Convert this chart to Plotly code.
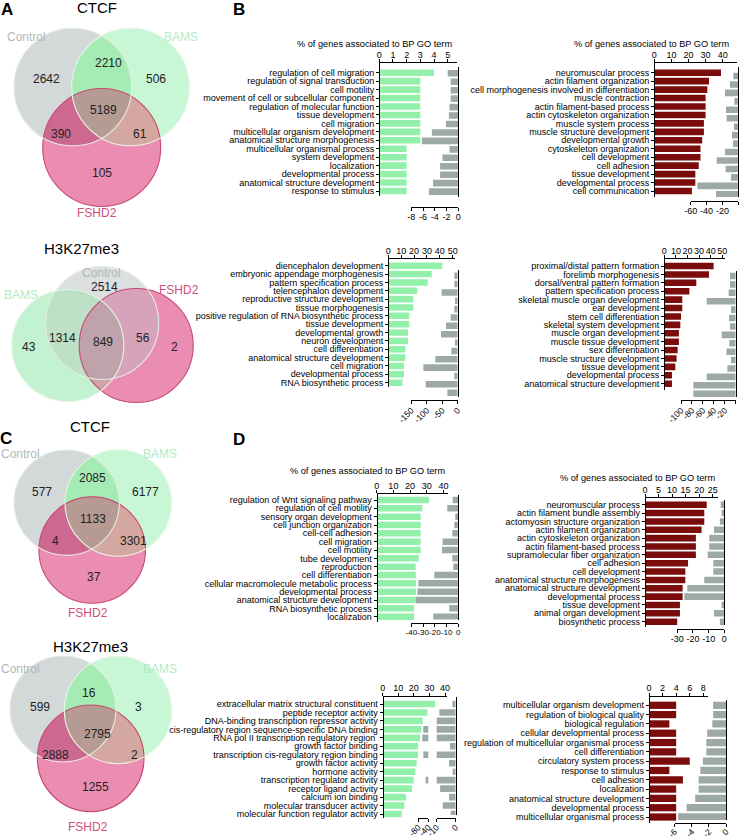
import numpy as np
import plotly.graph_objects as go

# ---------------- DATA ----------------
set_names = ["Control", "BAMS", "FSHD2"]

# Venn counts (region keys: 0=Control, 1=BAMS, 2=FSHD2)
a_ctcf_regions = [(0,), (0, 1), (1,), (0, 1, 2), (0, 2), (1, 2), (2,)]
a_ctcf_counts = [2642, 2210, 506, 5189, 390, 61, 105]
a_h3_regions = [(0,), (0, 1), (0, 1, 2), (0, 2), (1,), (2,)]
a_h3_counts = [2514, 1314, 849, 56, 43, 2]
c_ctcf_regions = [(0,), (0, 1), (1,), (0, 1, 2), (0, 2), (1, 2), (2,)]
c_ctcf_counts = [577, 2085, 6177, 1133, 4, 3301, 37]
c_h3_regions = [(0,), (0, 1), (1,), (0, 1, 2), (0, 2), (1, 2), (2,)]
c_h3_counts = [599, 16, 3, 2795, 2888, 2, 1255]

b1_terms = ["regulation of cell migration", "regulation of signal transduction", "cell motility",
            "movement of cell or subcellular component", "regulation of molecular function",
            "tissue development", "cell migration", "multicellular organism development",
            "anatomical structure morphogenesis", "multicellular organismal process",
            "system development", "localization", "developmental process",
            "anatomical structure development", "response to stimulus"]
b1_pct = [4, 3, 3, 3, 3, 3, 3, 3, 3, 2, 2, 2, 2, 2, 2]
b1_grey = [-1.8, -1.3, -1.3, -1.3, -1.5, -1.6, -2.1, -4.5, -6.2, -1.5, -2.7, -3.1, -3.1, -4.3, -5.0]

b2_terms = ["neuromuscular process", "actin filament organization",
            "cell morphogenesis involved in differentiation", "muscle contraction",
            "actin filament-based process", "actin cytoskeleton organization", "muscle system process",
            "muscle structure development", "developmental growth", "cytoskeleton organization",
            "cell development", "cell adhesion", "tissue development", "developmental process",
            "cell communication"]
b2_pct = [39, 32, 31, 30, 30, 30, 29, 29, 28, 27, 27, 26, 24, 24, 22]
b2_grey = [-6.3, -10.5, -16.8, -5, -15.5, -14.7, -5.5, -8, -6.7, -16.8, -27.3, -16, -9.2, -51.6, -28.1]

b3_terms = ["diencephalon development", "embryonic appendage morphogenesis",
            "pattern specification process", "telencephalon development",
            "reproductive structure development", "tissue morphogenesis",
            "positive regulation of RNA biosynthetic process", "tissue development",
            "developmental growth", "neuron development", "cell differentiation",
            "anatomical structure development", "cell migration", "developmental process",
            "RNA biosynthetic process"]
b3_pct = [42, 33.7, 30.6, 22.5, 19.4, 19.4, 16.3, 16.3, 15.3, 15.3, 13.2, 13.2, 12.2, 12.2, 11.1]
b3_grey = [-10.8, -10.8, -51.8, -8.6, -10.8, -22.6, -37.8, -54, -8.6, -20.5, -72.3, -111, -10.8, -103.6, -33.4]

b4_terms = ["proximal/distal pattern formation", "forelimb morphogenesis",
            "dorsal/ventral pattern formation", "pattern specification process",
            "skeletal muscle organ development", "ear development", "stem cell differentiation",
            "skeletal system development", "muscle organ development", "muscle tissue development",
            "sex differentiation", "muscle structure development", "tissue development",
            "developmental process", "anatomical structure development"]
b4_pct = [42.5, 38.5, 27.6, 21.6, 15.5, 15.5, 14.4, 13.8, 12.6, 12.6, 11.5, 10.6, 9.5, 6.6, 6.6]
b4_grey = [-10.4, -10.4, -12.8, -53, -8.5, -12.2, -10.4, -25.6, -11.6, -17, -8.5, -15.2, -53, -77.4, -77.4]

d1_terms = ["regulation of Wnt signaling pathway", "regulation of cell motility",
            "sensory organ development", "cell junction organization", "cell-cell adhesion",
            "cell migration", "cell motility", "tube development", "reproduction",
            "cell differentiation", "cellular macromolecule metabolic process",
            "developmental process", "anatomical structure development",
            "RNA biosynthetic process", "localization"]
d1_pct = [31.4, 27.4, 26.4, 26.4, 26.4, 26.4, 26.4, 25.2, 23.4, 23.4, 23.6, 23.6, 23.6, 22.4, 22.4]
d1_grey = [-4.8, -9.4, -2.6, -3.4, -5.1, -13.3, -13.9, -5.1, -4.3, -20.4, -34, -34.8, -36, -7.7, -21.3]

d2_terms = ["neuromuscular process", "actin filament bundle assembly",
            "actomyosin structure organization", "actin filament organization",
            "actin cytoskeleton organization", "actin filament-based process",
            "supramolecular fiber organization", "cell adhesion", "cell development",
            "anatomical structure morphogenesis", "anatomical structure development",
            "developmental process", "tissue development", "animal organ development",
            "biosynthetic process"]
d2_pct = [22.8, 21.9, 21.9, 20.9, 18.8, 18.8, 18.8, 15.9, 14.9, 14.9, 13.9, 13.9, 12.9, 12.9, 11.9]
d2_grey = [-2.3, -1.7, -2.8, -6.6, -9.6, -9.6, -10.6, -7, -7, -12.8, -23.6, -25.5, -1.7, -6.6, -2.8]

d3_terms = ["extracellular matrix structural constituent", "peptide receptor activity",
            "DNA-binding transcription repressor activity",
            "cis-regulatory region sequence-specific DNA binding",
            "RNA pol II transcription regulatory region ", "growth factor binding",
            "transcription cis-regulatory region binding", "growth factor activity",
            "hormone activity", "transcription regulator activity", "receptor ligand activity",
            "calcium ion binding", "molecular transducer activity",
            "molecular function regulator activity"]
d3_pct = [33.6, 28.7, 25.7, 24.8, 24, 22.7, 22.7, 21.8, 21, 19.9, 18.8, 15, 13.9, 12.2]
d3_grey = [-1.75, -8.6, -20, -60, -64, -3, -60, -3.5, -1.6, -51, -8.2, -3.5, -6.8, -2.6]

d4_terms = ["multicellular organism development", "regulation of biological quality",
            "biological regulation", "cellular developmental process",
            "regulation of multicellular organismal process", "cell differentiation",
            "circulatory system process", "response to stimulus", "cell adhesion", "localization",
            "anatomical structure development", "developmental process",
            "multicellular organismal process"]
d4_pct = [4, 4, 3, 4, 4, 4, 6, 3, 5, 4, 4, 4, 4]
d4_grey = [-1.5, -1.5, -1.6, -2.2, -2.3, -2.3, -2.7, -3.0, -3.2, -3.2, -3.6, -4.6, -5.6]

axis_title = "% of genes associated to BP GO term"

# ---------------- STYLE / LAYOUT ----------------
W, H = 740, 840
FONT = "Liberation Sans, Arial, Helvetica, sans-serif"
GREEN = "#93F0AB"
MAROON = "#7B0C0C"
GREYBAR = "#9DA9A7"


def px(x):
    return x / W


def py(y):
    return 1 - y / H


fig = go.Figure()
axes = {}
shapes = []
annots = []
counter = [0]


def ax_names():
    counter[0] += 1
    k = counter[0]
    s = "" if k == 1 else str(k)
    return f"xaxis{s}", f"yaxis{s}", f"x{s}", f"y{s}"


def common(size=9):
    return dict(showgrid=False, zeroline=False, showline=True, linecolor="black", linewidth=1.3,
                ticks="outside", ticklen=3, tickwidth=1.2, tickcolor="black",
                tickfont=dict(family=FONT, size=size, color="black"), automargin=False,
                fixedrange=True)


def go_panel(terms, pct, grey, color, g):
    n = len(terms)
    s = (g["row_last"] - g["row_first"]) / (n - 1)
    xa, ya, xr, yr = ax_names()
    axes[xa] = dict(common(9), domain=[px(g["x0"]), px(g["x1"])],
                    range=[0, (g["x1"] - g["x0"]) / g["ppu"]], anchor="free",
                    position=py(g["top_y"]), side="top", tickvals=g["ticks_top"], tickangle=0,
                    ticklabelstandoff=-2)
    axes[ya] = dict(common(9), domain=[py(g["y_bot"]), py(g["top_y"])],
                    range=[(g["y_bot"] - g["row_first"]) / s, -(g["row_first"] - g["top_y"]) / s],
                    anchor="free", position=px(g["x0"]), tickvals=list(range(n)), ticktext=terms)
    fig.add_trace(go.Bar(x=pct, y=list(range(n)), orientation="h", width=0.78,
                         marker=dict(color=color, line=dict(width=0)),
                         xaxis=xr, yaxis=yr, showlegend=False, hoverinfo="skip"))
    # grey (second measure) axes
    gy_first = g["grow_first"]
    yref = None
    for (lpx, rpx, lo, hi, tv) in g["segs"]:
        xa, ya, xr, yr = ax_names()
        axes[xa] = dict(common(g.get("bsize", 9 if g["angle"] == 0 else 8.5)),
                        domain=[px(lpx), px(rpx)],
                        range=[lo, hi], anchor="free",
                        position=py(g["gax_y"]), side="bottom", tickvals=tv,
                        ticktext=[str(v) for v in tv],
                        tickangle=g["angle"], ticklabelstandoff=g.get("sto", -2))
        if yref is None:
            yref = yr
            axes[ya] = dict(common(), domain=[py(g["gbot"]), py(g["gtop"])],
                            range=[(g["gbot"] - gy_first) / s, -(gy_first - g["gtop"]) / s],
                            anchor="free", position=px(g["gx"]), ticks="",
                            showticklabels=False)
        fig.add_trace(go.Bar(x=grey, y=list(range(n)), orientation="h", width=0.78,
                             marker=dict(color=GREYBAR, line=dict(width=0)),
                             xaxis=xr, yaxis=yref, showlegend=False, hoverinfo="skip"))


panels = [
    (b1_terms, b1_pct, b1_grey, GREEN,
     dict(top_y=62.3, x0=379.3, x1=457, ppu=13.68, ticks_top=[0, 1, 2, 3, 4, 5], y_bot=196,
          row_first=72.7, row_last=191, gx=458.3, gtop=67, gbot=197, gax_y=206.7,
          segs=[(411.3, 458.3, -8, 0, [-8, -6, -4, -2, 0])], angle=0, grow_first=73.3)),
    (b2_terms, b2_pct, b2_grey, MAROON,
     dict(top_y=62.3, x0=654.3, x1=737, ppu=1.71, ticks_top=[0, 10, 20, 30, 40], y_bot=196.7,
          row_first=72.7, row_last=191, gx=738.3, gtop=67, gbot=197, gax_y=200.7,
          segs=[(690.7, 738.3, -60, 0, [-60, -40, -20, 0])], angle=0, grow_first=76)),
    (b3_terms, b3_pct, b3_grey, GREEN,
     dict(top_y=258.3, x0=388.3, x1=455, ppu=1.287, ticks_top=[0, 10, 20, 30, 40, 50], y_bot=387,
          row_first=265.7, row_last=382.7, gx=457.7, gtop=270, gbot=396.5, gax_y=400,
          segs=[(411.3, 457.7, -150, 0, [-150, -100, -50, 0])], angle=-45, grow_first=275.7)),
    (b4_terms, b4_pct, b4_grey, MAROON,
     dict(top_y=258.3, x0=664.3, x1=725, ppu=1.16, ticks_top=[0, 10, 20, 30, 40, 50], y_bot=390,
          row_first=266, row_last=383.7, gx=735.7, gtop=271, gbot=397, gax_y=400,
          segs=[(681, 735.7, -100, 0, [-100, -80, -60, -40, -20, 0])], angle=-45, grow_first=276)),
    (d1_terms, d1_pct, d1_grey, GREEN,
     dict(top_y=493.3, x0=376.7, x1=448, ppu=1.667, ticks_top=[0, 10, 20, 30, 40], y_bot=621.7,
          row_first=500, row_last=616.7, gx=458.3, gtop=495, gbot=619.5, gax_y=623, bsize=8,
          segs=[(411.3, 458.3, -40, 0, [-40, -30, -20, -10, 0])], angle=0, grow_first=500)),
    (d2_terms, d2_pct, d2_grey, MAROON,
     dict(top_y=497.3, x0=645, x1=718, ppu=2.707, ticks_top=[0, 5, 10, 15, 20, 25], y_bot=626.7,
          row_first=504.7, row_last=621.7, gx=724.3, gtop=500, gbot=625, gax_y=628.7,
          segs=[(677.3, 724.3, -30, 0, [-30, -20, -10, 0])], angle=0, grow_first=504.7)),
    (d3_terms, d3_pct, d3_grey, GREEN,
     dict(top_y=696, x0=382.7, x1=446.7, ppu=1.558, ticks_top=[0, 10, 20, 30, 40], y_bot=818,
          row_first=704, row_last=814, gx=455.7, gtop=696.7, gbot=815, gax_y=818,
          segs=[(418.3, 428.3, -80, -40, [-80, -40]), (436.7, 455.7, -10, 0, [-10, 0])],
          angle=-45, grow_first=704, sto=-3)),
    (d4_terms, d4_pct, d4_grey, MAROON,
     dict(top_y=696, x0=649, x1=708, ppu=6.79, ticks_top=[0, 2, 4, 6, 8], y_bot=823,
          row_first=705.3, row_last=817, gx=726, gtop=700, gbot=820, gax_y=823.3,
          segs=[(674.7, 726, -6, 0, [-6, -4, -2, 0])], angle=-45, grow_first=705.3, sto=-4)),
]
for p in panels:
    go_panel(*p)

# GO axis titles
for (x, y) in [(374.7, 43.5), (651, 43.5), (367.3, 471), (637.8, 477.5)]:
    annots.append(dict(x=px(x), y=py(y), xref="paper", yref="paper", text=axis_title,
                       showarrow=False, xanchor="center", yanchor="middle",
                       font=dict(family=FONT, size=9.2, color="black")))

# ---------------- VENN ----------------
PAL_STD = {(0,): "#d3d8d8", (1,): "#c8f7d5", (2,): "#eb8cb2", (0, 1): "#a5ecb4",
           (0, 2): "#cd6991", (1, 2): "#d4a8a0", (0, 1, 2): "#b69b94"}
PAL_H3A = {(0,): "#dcdfdf", (1,): "#c3f2d1", (2,): "#eb8cb2", (0, 1): "#bde0c6",
           (0, 2): "#d6a3bb", (1, 2): "#d1a2a8", (0, 1, 2): "#c0a3aa"}
LABEL_COLORS = ["#b2b8b8", "#b3ebc4", "#cf4f7a"]
OUTLINES = ["#e4ece2", "#e6f5e6", "#c64b72"]


def circle_pts(c, n=720):
    t = np.linspace(0, 2 * np.pi, n, endpoint=False)
    return np.c_[c[0] + c[2] * np.cos(t), c[1] + c[2] * np.sin(t)]


def region_path(circs):
    pts = []
    for i, c in enumerate(circs):
        p = circle_pts(c)
        mask = np.ones(len(p), bool)
        for j, d in enumerate(circs):
            if j != i:
                mask &= (p[:, 0] - d[0]) ** 2 + (p[:, 1] - d[1]) ** 2 <= d[2] ** 2 + 1e-6
        pts.append(p[mask])
    pts = np.vstack(pts)
    cen = pts.mean(axis=0)
    ang = np.arctan2(pts[:, 1] - cen[1], pts[:, 0] - cen[0])
    pts = pts[np.argsort(ang)]
    return "M " + " L ".join(f"{px(x):.5f},{py(y):.5f}" for x, y in pts) + " Z"


def venn(title, tpos, circles, pal, regions, counts, cpos, lpos):
    for i, c in enumerate(circles):
        shapes.append(dict(type="circle", xref="paper", yref="paper",
                           x0=px(c[0] - c[2]), x1=px(c[0] + c[2]),
                           y0=py(c[1] + c[2]), y1=py(c[1] - c[2]),
                           fillcolor=pal[(i,)], line=dict(width=0)))
    for key in [(0, 1), (0, 2), (1, 2), (0, 1, 2)]:
        shapes.append(dict(type="path", xref="paper", yref="paper",
                           path=region_path([circles[k] for k in key]),
                           fillcolor=pal[key], line=dict(width=0)))
    for i in [2, 0, 1]:
        c = circles[i]
        shapes.append(dict(type="circle", xref="paper", yref="paper",
                           x0=px(c[0] - c[2]), x1=px(c[0] + c[2]),
                           y0=py(c[1] + c[2]), y1=py(c[1] - c[2]),
                           fillcolor="rgba(0,0,0,0)", line=dict(width=1.1, color=OUTLINES[i])))
    for cnt, (x, y) in zip(counts, cpos):
        annots.append(dict(x=px(x), y=py(y), xref="paper", yref="paper", text=str(cnt),
                           showarrow=False, xanchor="center", yanchor="middle",
                           font=dict(family=FONT, size=12, color="#222222")))
    for i, (x, y) in enumerate(lpos):
        annots.append(dict(x=px(x), y=py(y), xref="paper", yref="paper", text=set_names[i],
                           showarrow=False, xanchor="center", yanchor="middle",
                           font=dict(family=FONT, size=12, color=LABEL_COLORS[i])))
    annots.append(dict(x=px(tpos[0]), y=py(tpos[1]), xref="paper", yref="paper", text=title,
                       showarrow=False, xanchor="center", yanchor="middle",
                       font=dict(family=FONT, size=15, color="black")))


venn("CTCF", (96.7, 8),
     [(72.8, 87, 58.8), (130.5, 87, 58.8), (101.7, 147.5, 59)], PAL_STD,
     a_ctcf_regions, a_ctcf_counts,
     [(46.7, 79.3), (108.3, 63.3), (156, 79.3), (103.3, 110), (61, 134), (140, 134), (101.7, 173.3)],
     [(26, 37.3), (181, 37.3), (97.3, 213.3)])
venn("H3K27me3", (81.7, 248.3),
     [(102.2, 323, 56.5), (67.8, 345.5, 56), (136.2, 345.5, 57)], PAL_H3A,
     a_h3_regions, a_h3_counts,
     [(104, 286.7), (62.3, 337.7), (103.3, 341.7), (143.3, 338.3), (29, 346.7), (174.3, 346.7)],
     [(101.7, 272.7), (20.7, 295), (179.3, 290)])
venn("CTCF", (90, 426.7),
     [(66.7, 502.7, 52.7), (118.3, 503, 53.3), (92.2, 550, 53.3)], PAL_STD,
     c_ctcf_regions, c_ctcf_counts,
     [(41.7, 491.7), (92.7, 477.7), (145.7, 491.7), (93.3, 519.3), (55.7, 540.7), (133.3, 540.7),
      (94.3, 576.7)],
     [(20.7, 454), (160, 454), (88.3, 612.7)])
venn("H3K27me3", (90, 646.7),
     [(63, 709, 53), (118, 710, 53.7), (90.7, 758.3, 53.3)], PAL_STD,
     c_h3_regions, c_h3_counts,
     [(40, 707.3), (89.3, 693.3), (138.3, 707.3), (97.3, 734.3), (55, 755), (134, 755), (95, 786.7)],
     [(20.7, 669.3), (160, 669.3), (88.3, 827.3)])

# panel letters
for letter, (x, y) in zip(["A", "B", "C", "D"], [(7, 10), (239, 10), (6, 438), (239, 439)]):
    annots.append(dict(x=px(x), y=py(y), xref="paper", yref="paper", text=f"<b>{letter}</b>",
                       showarrow=False, xanchor="center", yanchor="middle",
                       font=dict(family=FONT, size=17, color="black")))

fig.update_layout(
    width=W, height=H, template="none",
    margin=dict(l=0, r=0, t=0, b=0, pad=0),
    paper_bgcolor="white", plot_bgcolor="rgba(0,0,0,0)",
    showlegend=False, hovermode=False,
    font=dict(family=FONT, size=9, color="black"),
    shapes=shapes, annotations=annots,
    **axes,
)
fig.write_html("out.html", config={"displayModeBar": False},
               post_script="document.body.style.margin='0px';document.body.style.padding='0px';")
